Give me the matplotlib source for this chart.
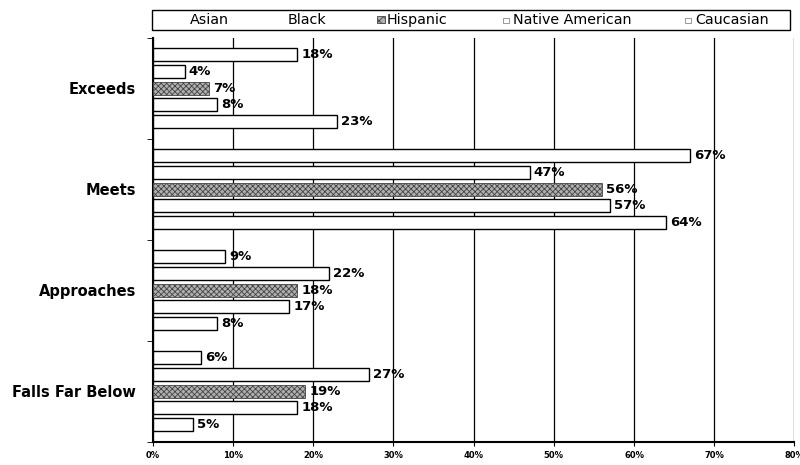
import matplotlib.pyplot as plt
from matplotlib.patches import Rectangle
import numpy as np

plt.rcParams['hatch.linewidth'] = 0.6

categories = ['Exceeds', 'Meets', 'Approaches', 'Falls Far Below']
groups = ['Asian', 'Black', 'Hispanic', 'Native American', 'Caucasian']
asian = [18, 67, 9, 6]
black = [4, 47, 22, 27]
hispanic = [7, 56, 18, 19]
native_american = [8, 57, 17, 18]
caucasian = [23, 64, 8, 5]
x_ticks = [0, 10, 20, 30, 40, 50, 60, 70, 80]

series = [asian, black, hispanic, native_american, caucasian]
hisp_color = '#b0b0b0'
hisp_edge = '#444444'

fig = plt.figure(figsize=(8, 4.65), dpi=100)
ax = fig.add_axes([0.191, 0.050, 0.802, 0.869])

y_center = np.arange(len(categories))
step = 0.165
bar_h = 0.13
for i, vals in enumerate(series):
    y = y_center + (i - 2) * step
    if groups[i] == 'Hispanic':
        ax.barh(y, vals, height=bar_h, color=hisp_color, edgecolor=hisp_edge,
                hatch='xxxxxx', linewidth=0.6, zorder=3)
    else:
        ax.barh(y, vals, height=bar_h, color='white', edgecolor='black',
                linewidth=1.0, zorder=3)
    for yy, v in zip(y, vals):
        ax.text(v + 0.5, yy, f'{v}%', va='center', ha='left', fontsize=9.5,
                fontweight='bold', zorder=4)

ax.set_xlim(0, 80)
ax.set_ylim(len(categories) - 0.5, -0.5)
ax.set_xticks(x_ticks)
ax.set_xticklabels([f'{t}%' for t in x_ticks], fontsize=6, fontweight='bold')
ax.tick_params(axis='x', length=3, direction='out', pad=4)
ax.grid(axis='x', color='black', linewidth=0.9, zorder=0)

ax.set_yticks(y_center)
ax.set_yticklabels(categories, fontsize=10.5, fontweight='bold')
ax.tick_params(axis='y', which='major', length=0, pad=12)
ax.set_yticks(np.arange(len(categories) + 1) - 0.5, minor=True)
ax.tick_params(axis='y', which='minor', length=4, direction='out')

for side in ['top', 'right']:
    ax.spines[side].set_visible(False)
ax.spines['left'].set_linewidth(1.5)
ax.spines['bottom'].set_linewidth(1.5)

# legend box across the top, entries laid out like the original
W, H = 800, 465
fig.patches.append(Rectangle((152 / W, 1 - 30 / H), 638 / W, 20 / H,
                             transform=fig.transFigure, facecolor='white',
                             edgecolor='black', linewidth=1.0))
legend_x = [190, 288, 387, 513, 695]
legend_icon = [None, None, 'hatch', 'plain', 'plain']
for name, lx, icon in zip(groups, legend_x, legend_icon):
    fig.text(lx / W, 1 - 20 / H, name, fontsize=10.3, va='center', ha='left')
    if icon == 'hatch':
        fig.patches.append(Rectangle(((lx - 10) / W, 1 - 23.5 / H), 8 / W, 7 / H,
                                     transform=fig.transFigure, facecolor=hisp_color,
                                     edgecolor=hisp_edge, hatch='xxxx', linewidth=0.6))
    elif icon == 'plain':
        fig.patches.append(Rectangle(((lx - 10) / W, 1 - 23 / H), 6 / W, 5 / H,
                                     transform=fig.transFigure, facecolor='white',
                                     edgecolor='#999999', linewidth=0.7))

fig.savefig('out.png', dpi=100)
